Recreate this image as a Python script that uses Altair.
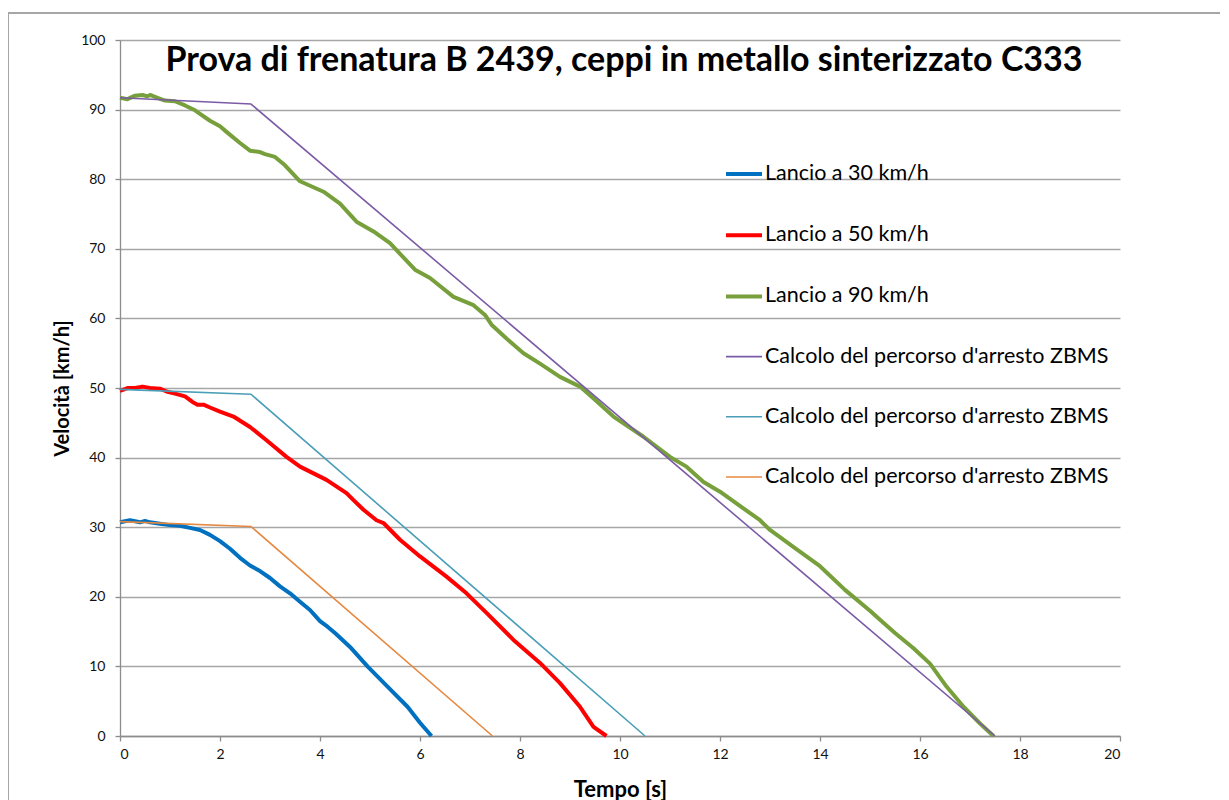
import altair as alt
import pandas as pd

# --- data ---
t30 = [0, 0.2, 0.4, 0.5, 0.6, 0.8, 1.0, 1.2, 1.4, 1.6, 1.8, 2.0, 2.2, 2.4, 2.6, 2.8, 3.0, 3.2, 3.4, 3.6,
       3.8, 4.0, 4.15, 4.3, 4.6, 4.95, 5.35, 5.75, 6.0, 6.23]
v30 = [30.7, 31.0, 30.7, 30.9, 30.7, 30.5, 30.3, 30.2, 29.9, 29.6, 28.9, 28.0, 26.9, 25.6, 24.5, 23.7, 22.7,
       21.5, 20.5, 19.3, 18.1, 16.5, 15.7, 14.8, 12.8, 10.0, 7.1, 4.2, 1.9, 0]

t50 = [0, 0.15, 0.3, 0.45, 0.6, 0.8, 0.93, 1.1, 1.3, 1.45, 1.55, 1.67, 1.8, 2.0, 2.27, 2.6, 2.93, 3.33, 3.6,
       4.13, 4.53, 4.67, 4.87, 5.13, 5.27, 5.6, 6.0, 6.53, 6.93, 7.33, 7.87, 8.4, 8.8, 9.2, 9.47, 9.73]
v50 = [49.6, 50.0, 50.0, 50.2, 50.0, 49.9, 49.5, 49.2, 48.8, 48.0, 47.6, 47.6, 47.2, 46.6, 45.9, 44.4, 42.5,
       40.1, 38.7, 36.8, 34.9, 33.9, 32.5, 31.0, 30.6, 28.2, 25.8, 22.9, 20.5, 17.7, 13.8, 10.5, 7.6, 4.2, 1.3, 0]

t90 = [0, 0.15, 0.3, 0.45, 0.55, 0.6, 0.75, 0.9, 1.1, 1.3, 1.5, 1.6, 1.8, 2.0, 2.13, 2.4, 2.6, 2.8, 2.9, 3.1,
       3.3, 3.6, 4.07, 4.4, 4.73, 5.07, 5.4, 5.9, 6.2, 6.67, 7.07, 7.3, 7.43, 7.73, 8.07, 8.4, 8.8, 9.2, 9.5,
       9.87, 10.47, 11.0, 11.33, 11.67, 12.0, 12.8, 13.0, 13.5, 14.0, 14.5, 15.0, 15.2, 15.5, 15.87, 16.2,
       16.53, 16.87, 17.2, 17.47]
v90 = [91.7, 91.5, 92.0, 92.1, 91.9, 92.1, 91.7, 91.3, 91.2, 90.6, 89.9, 89.4, 88.4, 87.6, 86.8, 85.2, 84.1,
       83.9, 83.6, 83.2, 82.0, 79.7, 78.2, 76.5, 73.9, 72.5, 70.8, 67.0, 65.8, 63.1, 61.9, 60.5, 59.1, 57.1,
       55.0, 53.5, 51.6, 50.2, 48.3, 45.9, 43.0, 40.1, 38.7, 36.5, 35.1, 31.0, 29.6, 27.0, 24.4, 21.0, 18.0,
       16.7, 14.8, 12.6, 10.4, 7.1, 4.2, 1.8, 0]

tz90 = [0, 2.62, 17.5]
vz90 = [91.7, 90.8, 0]
tz50 = [0, 2.62, 10.5]
vz50 = [49.8, 49.1, 0]
tz30 = [0, 2.62, 7.45]
vz30 = [30.8, 30.1, 0]

series_keys = ["Lancio a 30 km/h", "Lancio a 50 km/h", "Lancio a 90 km/h",
               "Calcolo del percorso d'arresto ZBMS|90",
               "Calcolo del percorso d'arresto ZBMS|50",
               "Calcolo del percorso d'arresto ZBMS|30"]
series_colors = ["#0070C0", "#FF0000", "#77A03C", "#7B5BA6", "#4A9EB8", "#E6883F"]
series_widths = [4, 4, 4, 1.6, 1.6, 1.6]

title_text = "Prova di frenatura B 2439, ceppi in metallo sinterizzato C333"
x_title = "Tempo [s]"
y_title = "Velocità [km/h]"
x_ticks = list(range(0, 21, 2))
y_ticks = list(range(0, 101, 10))

rows = []
for key, ts, vs in zip(series_keys,
                       [t30, t50, t90, tz90, tz50, tz30],
                       [v30, v50, v90, vz90, vz50, vz30]):
    for t, v in zip(ts, vs):
        rows.append({"serie": key, "t": t, "v": v})
df = pd.DataFrame(rows)

FONT = "Lato"
legend_props = dict(title=None, orient="none", legendX=604, legendY=114,
                    labelExpr="split(datum.label, '|')[0]")

lines = alt.Chart(df).mark_line(strokeJoin="round", strokeCap="butt").encode(
    x=alt.X("t:Q", title=x_title,
            scale=alt.Scale(domain=[0, 20], nice=False),
            axis=alt.Axis(values=x_ticks, grid=False, tickSize=5, labelPadding=6,
                          titlePadding=18, titleFontSize=22)),
    y=alt.Y("v:Q", title=y_title,
            scale=alt.Scale(domain=[0, 100], nice=False),
            axis=alt.Axis(values=y_ticks, grid=True, tickSize=5, labelPadding=10,
                          titlePadding=8, titleFontSize=20)),
    color=alt.Color("serie:N", scale=alt.Scale(domain=series_keys, range=series_colors),
                    legend=alt.Legend(**legend_props)),
    strokeWidth=alt.StrokeWidth("serie:N",
                                scale=alt.Scale(type="ordinal", domain=series_keys, range=series_widths),
                                legend=alt.Legend(**legend_props)),
    detail="serie:N",
)

frame = alt.Chart(df).mark_rect(fill=None, stroke="#a6a6a6", strokeWidth=2, clip=False).encode(
    x=alt.value(-112), x2=alt.value(1120), y=alt.value(-27), y2=alt.value(780)
)

chart = alt.layer(frame, lines).properties(
    width=1000, height=696,
    padding={"left": 112, "top": 32, "right": 100, "bottom": 70},
    autosize=alt.AutoSizeParams(type="none"),
    title=alt.TitleParams(title_text, font=FONT, fontSize=34, fontWeight="bold", color="black",
                          anchor="middle", baseline="alphabetic", offset=-5, dy=88, dx=4),
).configure(
    font=FONT,
).configure_view(
    stroke=None
).configure_axis(
    labelFont=FONT, titleFont=FONT, labelFontSize=14, labelColor="#111111",
    titleColor="black", titleFontWeight="bold",
    gridColor="#a6a6a6", gridWidth=1.3, domainColor="#8c8c8c", domainWidth=1.3,
    tickColor="#8c8c8c", tickWidth=1.3,
).configure_legend(
    symbolType="stroke", symbolSize=1296, labelFont=FONT, labelFontSize=21.5, labelColor="black",
    labelLimit=0, rowPadding=30.2, padding=0, labelOffset=1,
)

chart.save("out.html", embed_options={"renderer": "svg", "actions": False})
